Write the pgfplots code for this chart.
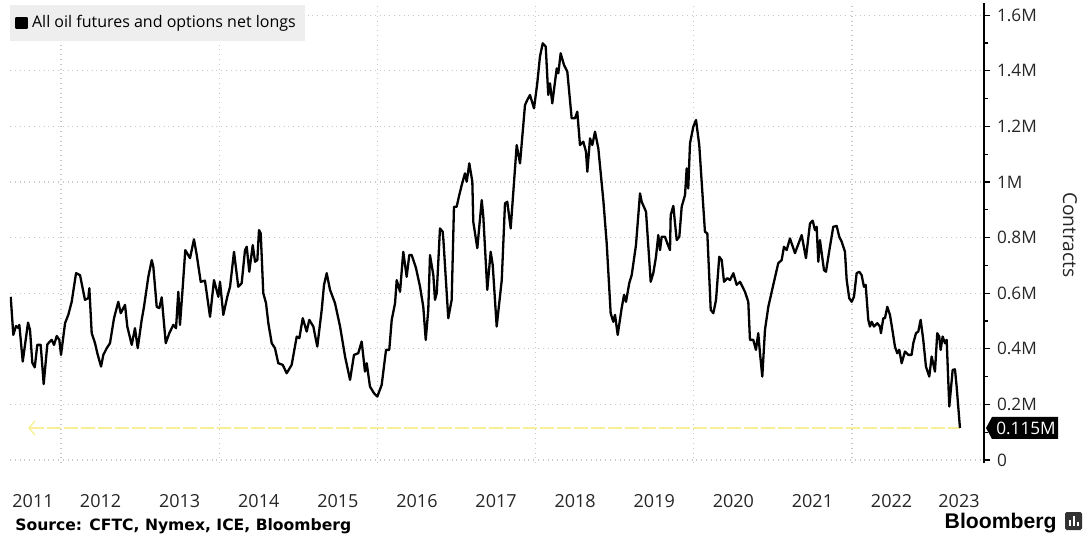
\documentclass[border=0pt]{standalone}
\usepackage{fontspec}
\setmainfont{Open Sans}
\newfontfamily\srcfont{DejaVu Sans}
\newfontfamily\bbfont{Liberation Sans}
\usepackage{pgfplots}
\pgfplotsset{compat=1.18}
\usepackage{pgfplotstable}
\usetikzlibrary{arrows.meta,calc}
\definecolor{gridc}{RGB}{200,200,200}
\definecolor{yel}{RGB}{247,240,150}
\definecolor{legbg}{RGB}{238,238,238}

\pgfplotstableread{
t v
2011.364 0.587
2011.397 0.450
2011.431 0.482
2011.460 0.475
2011.473 0.486
2011.516 0.354
2011.583 0.494
2011.608 0.468
2011.637 0.350
2011.668 0.333
2011.700 0.414
2011.743 0.414
2011.781 0.273
2011.827 0.416
2011.882 0.432
2011.912 0.414
2011.946 0.446
2011.979 0.432
2012.000 0.378
2012.051 0.492
2012.092 0.522
2012.135 0.569
2012.190 0.672
2012.240 0.665
2012.303 0.576
2012.345 0.582
2012.358 0.618
2012.388 0.456
2012.430 0.420
2012.459 0.384
2012.506 0.336
2012.535 0.378
2012.578 0.402
2012.619 0.420
2012.670 0.510
2012.724 0.569
2012.755 0.528
2012.809 0.558
2012.838 0.480
2012.894 0.414
2012.935 0.474
2012.970 0.402
2013.020 0.504
2013.049 0.551
2013.104 0.659
2013.147 0.719
2013.167 0.695
2013.210 0.551
2013.243 0.546
2013.273 0.585
2013.324 0.420
2013.369 0.456
2013.420 0.486
2013.454 0.474
2013.483 0.605
2013.504 0.486
2013.539 0.623
2013.571 0.755
2013.631 0.726
2013.681 0.794
2013.716 0.737
2013.766 0.641
2013.820 0.645
2013.884 0.515
2013.934 0.647
2013.989 0.587
2014.010 0.641
2014.052 0.522
2014.102 0.587
2014.137 0.623
2014.187 0.749
2014.241 0.623
2014.284 0.636
2014.326 0.755
2014.348 0.767
2014.380 0.677
2014.424 0.773
2014.453 0.713
2014.482 0.719
2014.503 0.827
2014.525 0.815
2014.557 0.600
2014.592 0.564
2014.621 0.492
2014.664 0.420
2014.705 0.402
2014.747 0.348
2014.803 0.342
2014.853 0.312
2014.916 0.342
2014.980 0.444
2015.013 0.438
2015.056 0.510
2015.106 0.462
2015.139 0.504
2015.190 0.480
2015.240 0.408
2015.296 0.540
2015.325 0.630
2015.359 0.672
2015.401 0.612
2015.464 0.564
2015.528 0.480
2015.591 0.372
2015.654 0.288
2015.704 0.378
2015.758 0.384
2015.801 0.426
2015.843 0.318
2015.865 0.348
2015.906 0.264
2015.957 0.240
2015.999 0.228
2016.054 0.270
2016.109 0.396
2016.150 0.396
2016.181 0.504
2016.223 0.564
2016.244 0.647
2016.286 0.605
2016.327 0.749
2016.370 0.659
2016.403 0.737
2016.434 0.737
2016.488 0.690
2016.539 0.623
2016.580 0.551
2016.611 0.432
2016.643 0.540
2016.665 0.737
2016.707 0.665
2016.728 0.576
2016.750 0.600
2016.791 0.833
2016.825 0.821
2016.833 0.797
2016.896 0.510
2016.939 0.576
2016.968 0.911
2017.002 0.911
2017.035 0.953
2017.066 0.989
2017.107 1.031
2017.129 1.001
2017.162 1.067
2017.200 1.001
2017.212 0.857
2017.263 0.762
2017.319 0.935
2017.339 0.875
2017.389 0.612
2017.432 0.749
2017.458 0.701
2017.508 0.480
2017.572 0.647
2017.613 0.923
2017.642 0.929
2017.685 0.833
2017.761 1.133
2017.803 1.067
2017.866 1.277
2017.895 1.295
2017.929 1.313
2017.980 1.265
2018.021 1.355
2018.055 1.451
2018.090 1.499
2018.128 1.487
2018.160 1.313
2018.182 1.355
2018.211 1.283
2018.267 1.409
2018.287 1.391
2018.317 1.463
2018.359 1.421
2018.401 1.397
2018.456 1.229
2018.498 1.229
2018.527 1.253
2018.561 1.133
2018.603 1.145
2018.637 1.109
2018.654 1.037
2018.688 1.157
2018.717 1.133
2018.751 1.181
2018.793 1.121
2018.856 0.935
2018.899 0.779
2018.949 0.528
2018.982 0.497
2019.004 0.522
2019.038 0.450
2019.088 0.546
2019.118 0.594
2019.143 0.569
2019.184 0.636
2019.215 0.665
2019.269 0.773
2019.320 0.959
2019.341 0.929
2019.396 0.893
2019.455 0.641
2019.488 0.672
2019.522 0.731
2019.551 0.809
2019.573 0.755
2019.594 0.803
2019.636 0.803
2019.665 0.779
2019.699 0.755
2019.708 0.881
2019.741 0.914
2019.784 0.791
2019.817 0.803
2019.847 0.911
2019.889 0.953
2019.910 1.049
2019.930 0.977
2019.952 1.139
2019.994 1.199
2020.028 1.223
2020.069 1.133
2020.141 0.821
2020.171 0.815
2020.214 0.540
2020.247 0.528
2020.281 0.576
2020.322 0.731
2020.353 0.719
2020.382 0.641
2020.424 0.654
2020.458 0.647
2020.500 0.672
2020.542 0.630
2020.584 0.641
2020.647 0.605
2020.689 0.569
2020.710 0.432
2020.752 0.432
2020.786 0.396
2020.815 0.456
2020.837 0.384
2020.866 0.300
2020.900 0.468
2020.942 0.551
2021.005 0.630
2021.068 0.708
2021.111 0.719
2021.140 0.767
2021.174 0.755
2021.216 0.797
2021.279 0.744
2021.364 0.809
2021.418 0.726
2021.469 0.851
2021.503 0.861
2021.532 0.827
2021.553 0.839
2021.574 0.713
2021.595 0.791
2021.646 0.683
2021.671 0.677
2021.721 0.767
2021.763 0.839
2021.806 0.842
2021.839 0.803
2021.870 0.785
2021.911 0.749
2021.933 0.647
2021.965 0.582
2021.996 0.569
2022.025 0.587
2022.059 0.672
2022.092 0.677
2022.122 0.665
2022.151 0.623
2022.173 0.630
2022.206 0.504
2022.227 0.480
2022.249 0.497
2022.278 0.480
2022.320 0.492
2022.354 0.480
2022.366 0.456
2022.396 0.510
2022.417 0.510
2022.446 0.551
2022.480 0.522
2022.514 0.462
2022.543 0.408
2022.572 0.384
2022.598 0.396
2022.628 0.348
2022.670 0.390
2022.712 0.378
2022.754 0.378
2022.775 0.420
2022.809 0.456
2022.838 0.462
2022.868 0.504
2022.901 0.432
2022.935 0.336
2022.977 0.300
2023.007 0.372
2023.049 0.318
2023.078 0.456
2023.103 0.444
2023.121 0.396
2023.146 0.444
2023.176 0.420
2023.197 0.432
2023.230 0.192
2023.273 0.324
2023.302 0.326
2023.323 0.264
2023.365 0.115
}\oildata

\begin{document}
\begin{tikzpicture}
\useasboundingbox (0,0) rectangle (543pt,268pt);
\begin{axis}[
  at={(5pt,36.5pt)}, anchor=south west,
  width=487pt, height=230pt, scale only axis,
  xmin=2011.355, xmax=2023.669, ymin=-0.011, ymax=1.644,
  axis y line*=right, axis x line*=bottom,
  x axis line style={draw=none},
  y axis line style={black, line width=0.6pt},
  /pgf/number format/assume math mode=true,
  xtick={2011.646,2012.5,2013.5,2014.5,2015.5,2016.5,2017.5,2018.5,2019.5,2020.5,2021.5,2022.5,2023.353},
  xticklabels={2011,2012,2013,2014,2015,2016,2017,2018,2019,2020,2021,2022,2023},
  x tick style={draw=none},
  xticklabel style={font=\fontsize{9}{10}\selectfont, color=black!85, yshift=-9pt},
  extra x ticks={2012,2014,2016,2018,2020,2022},
  extra x tick labels={},
  extra x tick style={grid=major, major tick length=0pt},
  ytick={0,0.2,0.4,0.6,0.8,1,1.2,1.4,1.6},
  yticklabels={0,0.2M,0.4M,0.6M,0.8M,1M,1.2M,1.4M,1.6M},
  minor ytick={0.1,0.3,0.5,0.7,0.9,1.1,1.3,1.5},
  y tick style={black, line width=0.6pt},
  tick align=outside,
  major tick length=3pt, minor tick length=2pt,
  yticklabel style={font=\fontsize{8.6}{10}\selectfont, color=black!85, anchor=west, xshift=0pt},
  ymajorgrids,
  grid style={gridc, dotted, line width=0.6pt},
  legend style={at={(0,1)}, anchor=north west, yshift=-1pt, draw=none, fill=legbg,
    inner xsep=2.5pt, inner ysep=3pt, font=\fontsize{8}{9}\selectfont},
  legend image code/.code={\fill[black] (0pt,-2.6pt) rectangle (5.2pt,2.6pt);},
  legend cell align=left,
]
\addplot[yel, line width=0.7pt, dash pattern=on 7pt off 1.5pt, {Straight Barb[length=3pt,width=7pt]}-, forget plot]
  coordinates {(2011.583,0.115) (2023.365,0.115)};
\addplot[black, line width=1.15pt, line join=round] table[x=t, y=v] {\oildata};
\addlegendentry{All oil futures and options net longs}
\coordinate (last) at (axis cs:2023.669,0.115);
\end{axis}
\fill[black] ($(last)+(1pt,0)$) -- ++(3pt,5.5pt) -- ++(33pt,0) -- ++(0,-11pt) -- ++(-33pt,0) -- cycle;
\node[white, font=\fontsize{8.6}{10}\selectfont, anchor=center] at ($(last)+(21pt,0)$) {0.115M};
\node[rotate=-90, font=\fontsize{9.6}{11}\selectfont, color=black!85] at (535pt,150.5pt) {Contracts};
\node[anchor=base west, font=\srcfont\bfseries\fontsize{7.8}{9}\selectfont, inner sep=0pt] at (7.5pt,2.8pt) {Source: CFTC, Nymex, ICE, Bloomberg};
\node[anchor=base east, font=\bbfont\bfseries\fontsize{10.6}{12}\selectfont, inner sep=0pt] at (528.5pt,4pt) {Bloomberg};
\fill[black!80, rounded corners=0.8pt] (532.5pt,3pt) rectangle (541pt,12pt);
\fill[white] (534.3pt,5pt) rectangle (535.3pt,8pt);
\fill[white] (536.3pt,5pt) rectangle (537.3pt,10pt);
\fill[white] (538.3pt,5pt) rectangle (539.3pt,7pt);
\end{tikzpicture}
\end{document}
